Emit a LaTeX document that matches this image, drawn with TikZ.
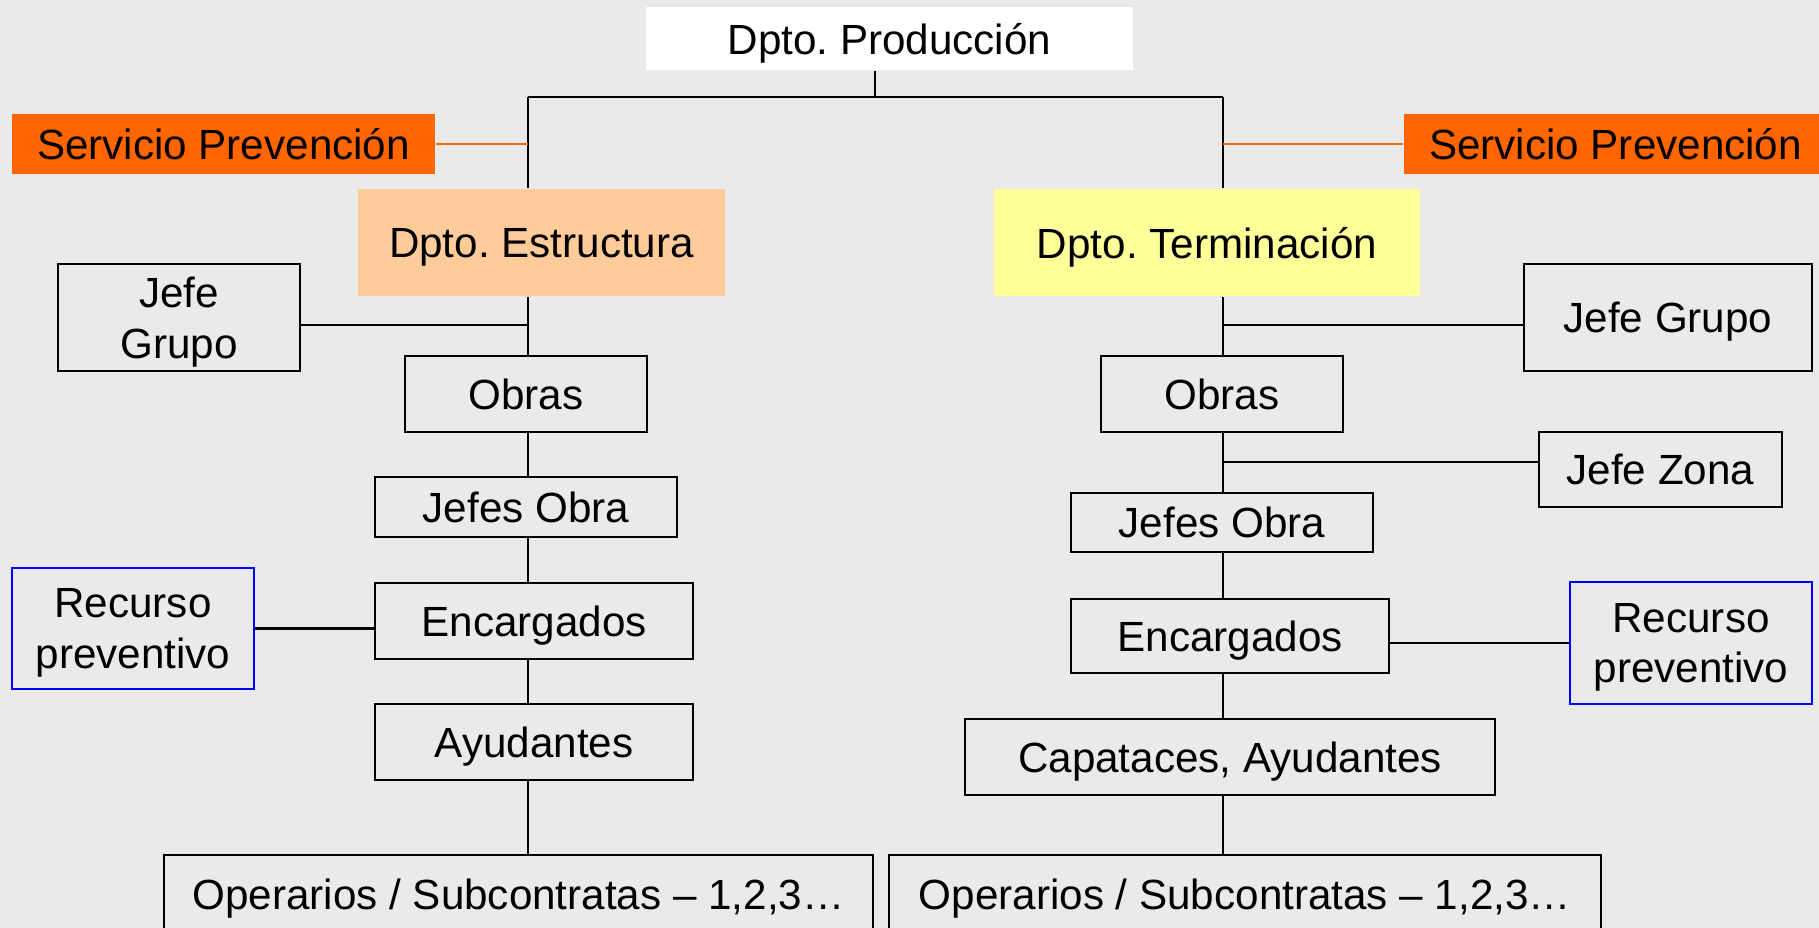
\documentclass[tikz,border=0pt]{standalone}
\usepackage{fontspec}
\setmainfont{Liberation Sans}
\definecolor{fondo}{HTML}{EAEAEA}
\definecolor{naranja}{HTML}{FF6600}
\definecolor{salmon}{HTML}{FFCC99}
\definecolor{amarillo}{HTML}{FFFF99}
\definecolor{azul}{HTML}{0000FF}
\tikzset{
  orgnode/.style = {align=center, inner sep=0pt, text centered, text depth=0pt,
    font=\fontsize{12}{14.4}\selectfont},
  org_b/.style = {orgnode, rectangle, draw=black, line width=0.6pt},% caja normal
  org_s/.style = {orgnode, rectangle, fill=naranja},% servicio prevencion
  org_r/.style = {orgnode, rectangle, draw=azul, line width=0.6pt},% recurso preventivo
  org_d/.style = {orgnode, rectangle},% departamento
  org_l/.style = {draw=black, line width=0.6pt},% linea
  org_o/.style = {draw=naranja, line width=0.6pt}% linea naranja
}

\begin{document}
\frenchspacing
\begin{tikzpicture}[x=0.01cm, y=-0.01cm]
\useasboundingbox (0,0) rectangle (1819,928);
\fill[fondo] (0,0) rectangle (1819,928);
\clip (0,0) rectangle (1819,928);

% cabecera
\node [org_d, fill=white, minimum width=4.87cm, minimum height=0.63cm] (prod) at (889.5,38.5) {Dpto. Producción};
\node [org_s, minimum width=4.23cm, minimum height=0.6cm] (servL) at (223.5,144) {Servicio Prevención};
\node [org_s, minimum width=4.23cm, minimum height=0.6cm] (servR) at (1615.5,144) {Servicio Prevención};
\node [org_d, fill=salmon, minimum width=3.67cm, minimum height=1.07cm] (estr) at (541.5,242.5) {Dpto. Estructura};
\node [org_d, fill=amarillo, minimum width=4.26cm, minimum height=1.07cm] (term) at (1207,242.5) {Dpto. Terminación};

% rama izquierda
\node [org_b, minimum width=2.42cm, minimum height=1.07cm] (ljefe) at (179,317.5) {Jefe\\Grupo};
\node [org_b, minimum width=2.42cm, minimum height=0.76cm] (lobras) at (526,394) {Obras};
\node [org_b, minimum width=3.02cm, minimum height=0.6cm] (ljobra) at (526,507) {Jefes Obra};
\node [org_b, minimum width=3.18cm, minimum height=0.76cm] (lenc) at (534,621) {Encargados};
\node [org_r, minimum width=2.42cm, minimum height=1.21cm] (lrec) at (133,628.5) {Recurso\\preventivo};
\node [org_b, minimum width=3.18cm, minimum height=0.76cm] (layud) at (534,742) {Ayudantes};
\node [org_b, minimum width=7.09cm, minimum height=0.78cm] (lop) at (518.5,894) {Operarios / Subcontratas – 1,2,3…};

% rama derecha
\node [org_b, minimum width=2.88cm, minimum height=1.07cm] (rjefe) at (1668,317.5) {Jefe Grupo};
\node [org_b, minimum width=2.42cm, minimum height=0.76cm] (robras) at (1222,394) {Obras};
\node [org_b, minimum width=2.43cm, minimum height=0.75cm] (rzona) at (1660.5,469.5) {Jefe Zona};
\node [org_b, minimum width=3.02cm, minimum height=0.59cm] (rjobra) at (1222,522.5) {Jefes Obra};
\node [org_b, minimum width=3.18cm, minimum height=0.74cm] (renc) at (1230,636) {Encargados};
\node [org_r, minimum width=2.42cm, minimum height=1.22cm] (rrec) at (1691,643) {Recurso\\preventivo};
\node [org_b, minimum width=5.3cm, minimum height=0.76cm] (rcap) at (1230,757) {Capataces, Ayudantes};
\node [org_b, minimum width=7.12cm, minimum height=0.78cm] (rop) at (1245,894) {Operarios / Subcontratas – 1,2,3…};

% troncos
\coordinate (pst) at (875,97);
\coordinate (ltr) at (528,97);
\coordinate (rtr) at (1223,97);
\draw [org_l] (prod.south -| pst) -- (pst);
\draw [org_l] (ltr) -- (rtr);
\draw [org_l] (ltr) -- (estr.north -| ltr);
\draw [org_l] (rtr) -- (term.north -| rtr);
\draw [org_o] (servL.east) -- (servL.east -| ltr);
\draw [org_o] (servR.west) -- (servR.west -| rtr);

\foreach \a/\b in {estr/lobras, lobras/ljobra, ljobra/lenc, lenc/layud, layud/lop}
  \draw [org_l] (\a.south -| ltr) -- (\b.north -| ltr);
\foreach \a/\b in {term/robras, robras/rjobra, rjobra/renc, renc/rcap, rcap/rop}
  \draw [org_l] (\a.south -| rtr) -- (\b.north -| rtr);

% ramas laterales
\draw [org_l] ([yshift=-0.075cm]ljefe.east) -- ([yshift=-0.075cm]ljefe.east -| ltr);
\draw [org_l] ([yshift=-0.075cm]rjefe.west) -- ([yshift=-0.075cm]rjefe.west -| rtr);
\draw [org_l] ([yshift=0.075cm]rzona.west) -- ([yshift=0.075cm]rzona.west -| rtr);
\draw [org_l] (lrec.east) -- (lrec.east -| lenc.west);
\draw [org_l] (rrec.west) -- (rrec.west -| renc.east);
\end{tikzpicture}
\end{document}
